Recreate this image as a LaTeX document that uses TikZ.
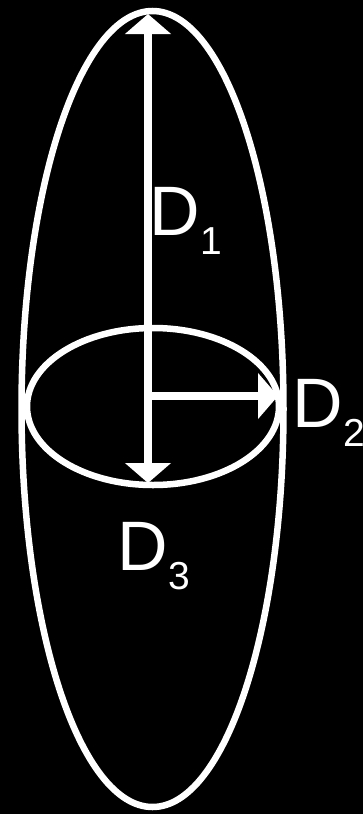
\documentclass[tikz,border=0pt]{standalone}
\usepackage{fontspec}
\setmainfont{Liberation Sans}
\usepackage{tikz}
\usetikzlibrary{arrows.meta}

\newcommand{\dimlbl}[1]{D\raisebox{-19pt}{\fontsize{39}{39}\selectfont #1}}

\begin{document}
\begin{tikzpicture}[
    x=1pt, y=-1pt,
    outline/.style={white, line width=6.5pt},
    dimarrow/.style={white, line width=8pt, -{Triangle[width=45pt, length=20pt]}},
    lbl/.style={white, inner sep=0pt, anchor=base west, font=\fontsize{70}{70}\selectfont}
]
% Background
\fill[black] (0,0) rectangle (363,814);
\useasboundingbox (0,0) rectangle (363,814);

% Ellipsoid outlines
\draw[outline] (152.5,409) ellipse [x radius=131, y radius=398];
\draw[outline] (153,406.5) ellipse [x radius=126, y radius=78.5];

% Axes
\coordinate (o) at (148,396);
\coordinate (top) at (148,14);
\coordinate (right) at (278,396);
\coordinate (bottom) at (148,483);
\draw[dimarrow] (o) -- (top);
\draw[dimarrow] (o) -- (right);
\draw[dimarrow] (o) -- (bottom);

% Labels
\node[lbl] (d1) at (149.5,235) {\dimlbl{1}};
\node[lbl] (d2) at (292.5,427) {\dimlbl{2}};
\node[lbl] (d3) at (117.5,570) {\dimlbl{3}};
\end{tikzpicture}
\end{document}
